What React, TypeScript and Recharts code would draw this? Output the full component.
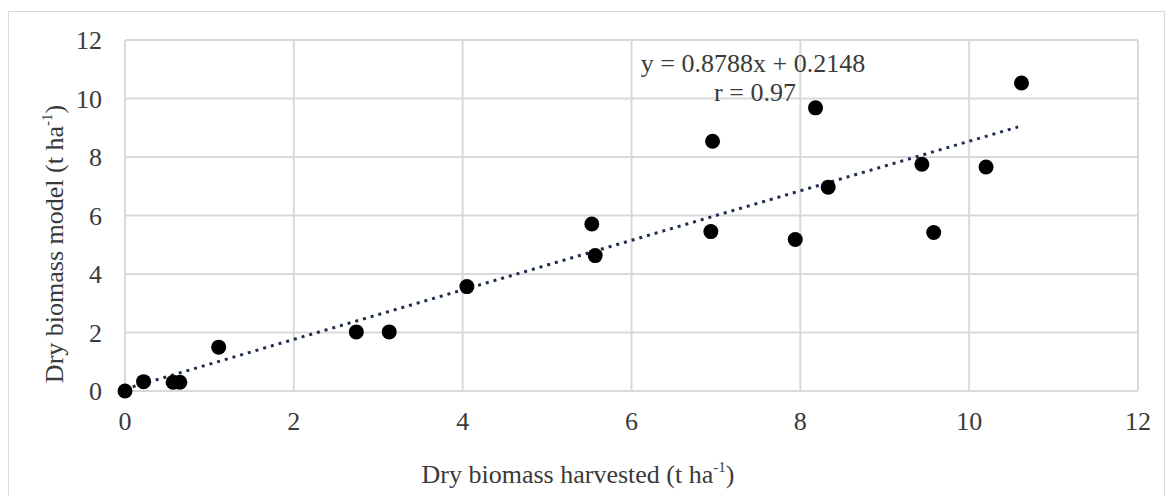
import {
  ScatterChart,
  Scatter,
  XAxis,
  YAxis,
  CartesianGrid,
} from "recharts";

// observed (harvested) vs modelled dry biomass, t/ha
const harvested = [
  0, 0.22, 0.57, 0.65, 1.11, 2.74, 3.13, 4.05, 5.53, 5.57, 6.94, 6.96, 7.94,
  8.18, 8.33, 9.44, 9.58, 10.2, 10.62,
];
const modelled = [
  0, 0.32, 0.3, 0.3, 1.5, 2.02, 2.02, 3.57, 5.71, 4.63, 5.45, 8.54, 5.18,
  9.68, 6.97, 7.75, 5.42, 7.66, 10.53,
];

// dotted trend line end points as drawn
const trendX = [0, 10.58];
const trendY = [0.07, 9.03];

const axisTicks = [0, 2, 4, 6, 8, 10, 12];

const equationText = "y = 0.8788x + 0.2148";
const rText = "r = 0.97";

const points = harvested.map((x, i) => ({ x, y: modelled[i] }));
const trend = trendX.map((x, i) => ({ x, y: trendY[i] }));

const FONT = "'Liberation Serif', 'Times New Roman', serif";
const TEXT = "#3a3a3a";
const GRID = "#d9d9d9";

const W = 1155;
const H = 484;

export default function App() {
  return (
    <div
      style={{
        position: "absolute",
        left: 8,
        top: 11,
        width: W + 2,
        height: H + 1,
        border: `1px solid ${GRID}`,
        borderBottom: "none",
        boxSizing: "border-box",
        background: "#fff",
      }}
    >
      <ScatterChart
        width={W}
        height={H}
        margin={{ top: 28, right: 26, left: 0, bottom: 0 }}
        style={{ fontFamily: FONT }}
      >
        <CartesianGrid stroke={GRID} strokeWidth={2} />
        <XAxis
          type="number"
          dataKey="x"
          domain={[0, 12]}
          ticks={axisTicks}
          height={105}
          tickSize={0}
          tickMargin={21}
          axisLine={{ stroke: GRID, strokeWidth: 2 }}
          tickLine={false}
          tick={{ fontSize: 26, fill: TEXT, fontFamily: FONT }}
        />
        <YAxis
          type="number"
          dataKey="y"
          domain={[0, 12]}
          ticks={axisTicks}
          width={116}
          tickSize={0}
          tickMargin={23}
          axisLine={false}
          tickLine={false}
          tick={{ fontSize: 26, fill: TEXT, fontFamily: FONT }}
        />
        <Scatter
          data={trend}
          isAnimationActive={false}
          line={{
            stroke: "#1f2d4e",
            strokeWidth: 3,
            strokeDasharray: "3 5",
          }}
          shape={() => <g />}
          legendType="none"
        />
        <Scatter
          data={points}
          isAnimationActive={false}
          fill="#000"
          shape={(p: any) => <circle cx={p.cx} cy={p.cy} r={7.5} fill="#000" />}
        />
        <text
          x={744}
          y={60}
          textAnchor="middle"
          fontSize={26}
          fill={TEXT}
          fontFamily={FONT}
        >
          {equationText}
        </text>
        <text
          x={746}
          y={89}
          textAnchor="middle"
          fontSize={26}
          fill={TEXT}
          fontFamily={FONT}
        >
          {rText}
        </text>
        <text
          x={569}
          y={471}
          textAnchor="middle"
          fontSize={26}
          fill={TEXT}
          fontFamily={FONT}
        >
          Dry biomass harvested (t ha
          <tspan fontSize={15} dy={-11}>
            -1
          </tspan>
          <tspan dy={11}>)</tspan>
        </text>
        <text
          x={54}
          y={232}
          transform="rotate(-90, 54, 232)"
          textAnchor="middle"
          fontSize={26}
          fill={TEXT}
          fontFamily={FONT}
        >
          Dry biomass model (t ha
          <tspan fontSize={15} dy={-11}>
            -1
          </tspan>
          <tspan dy={11}>)</tspan>
        </text>
      </ScatterChart>
    </div>
  );
}
